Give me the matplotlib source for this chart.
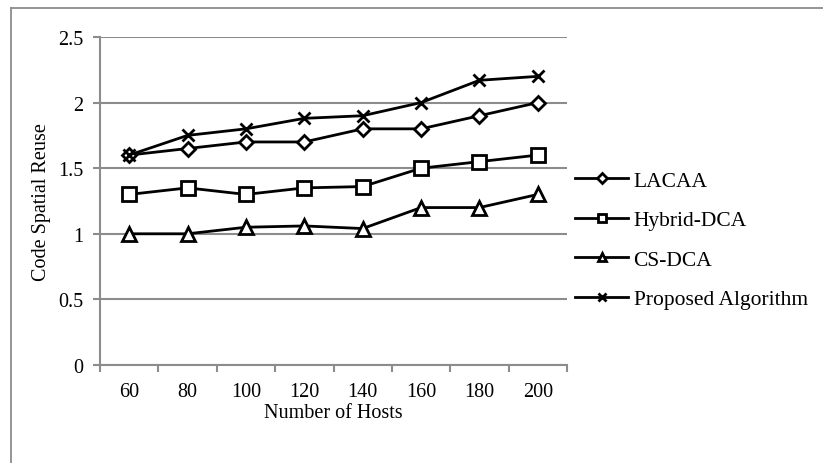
import matplotlib.pyplot as plt
from matplotlib.lines import Line2D

hosts = ["60", "80", "100", "120", "140", "160", "180", "200"]
lacaa = [1.6, 1.65, 1.7, 1.7, 1.8, 1.8, 1.9, 2.0]
hybrid_dca = [1.3, 1.35, 1.3, 1.35, 1.36, 1.5, 1.55, 1.6]
cs_dca = [1.0, 1.0, 1.05, 1.06, 1.04, 1.2, 1.2, 1.3]
proposed = [1.6, 1.75, 1.8, 1.88, 1.9, 2.0, 2.17, 2.2]

series_names = ["LACAA", "Hybrid-DCA", "CS-DCA", "Proposed Algorithm"]
y_ticks = [0, 0.5, 1, 1.5, 2, 2.5]
y_tick_labels = ["0", "0.5", "1", "1.5", "2", "2.5"]

plt.rcParams['font.family'] = ['Liberation Serif', 'DejaVu Serif']
W, H = 823, 464
fig = plt.figure(figsize=(W / 100, H / 100), dpi=100)

grid_col = "#8c8c8c"
fs = 14.5

# outer frame (left and top edges)
fig.add_artist(Line2D([10.5 / W, 10.5 / W], [0, 1 - 8.5 / H], transform=fig.transFigure,
                      color=grid_col, lw=1.3))
fig.add_artist(Line2D([10.5 / W, 1], [1 - 8.5 / H, 1 - 8.5 / H], transform=fig.transFigure,
                      color=grid_col, lw=1.3))

left, right, top, bottom = 100, 567, 38, 366
ax = fig.add_axes([left / W, 1 - bottom / H, (right - left) / W, (bottom - top) / H])

x = list(range(len(hosts)))
styles = [
    (lacaa, "D", 7.5),
    (hybrid_dca, "s", 10),
    (cs_dca, "^", 10),
    (proposed, "x", 9),
]
for (vals, mk, ms), name in zip(styles, series_names):
    if mk == "x":
        ax.plot(x, vals, color="black", lw=2, marker=mk, ms=ms, mew=2,
                mec="black", label=name, zorder=3)
    else:
        ax.plot(x, vals, color="black", lw=2, marker=mk, ms=ms, mew=2,
                mfc="white", mec="black", label=name, zorder=3)

ax.set_xlim(-0.5, len(hosts) - 0.5)
ax.set_ylim(0, 2.5)
ax.set_yticks(y_ticks)
ax.set_yticklabels(y_tick_labels)
ax.yaxis.grid(True, color=grid_col, lw=1.5)
ax.set_axisbelow(True)

# category labels centred, tick marks on category boundaries
ax.set_xticks(x)
ax.set_xticklabels(hosts)
ax.set_xticks([i - 0.5 for i in range(len(hosts) + 1)], minor=True)
ax.tick_params(axis="x", which="major", length=0, pad=12, labelsize=fs)
ax.tick_params(axis="x", which="minor", length=5, width=1.5, color=grid_col, direction="out")
ax.tick_params(axis="y", length=5, width=1.5, color=grid_col, pad=7, labelsize=fs)

for s in ["top", "right"]:
    ax.spines[s].set_visible(False)
for s in ["left", "bottom"]:
    ax.spines[s].set_color(grid_col)
    ax.spines[s].set_linewidth(1.5)

ax.set_xlabel("Number of Hosts", fontsize=fs)
ax.xaxis.set_label_coords(0.5, -(404 - bottom) / (bottom - top))
ax.set_ylabel("Code Spatial Reuse", fontsize=fs, labelpad=5)

handles, labels = ax.get_legend_handles_labels()
leg_handles = []
for h in handles:
    mk = h.get_marker()
    leg_handles.append(Line2D([], [], color="black", lw=2, marker=mk,
                              ms=5.5 if mk != "x" else 6, mew=2,
                              mfc="white" if mk != "x" else "black", mec="black"))
fig.legend(leg_handles, labels, loc="center left",
           bbox_to_anchor=(556 / W, 1 - 241 / H), frameon=False, fontsize=15.5,
           handlelength=2.45, handletextpad=0.25, labelspacing=0.9)

fig.savefig("out.png", dpi=100)
